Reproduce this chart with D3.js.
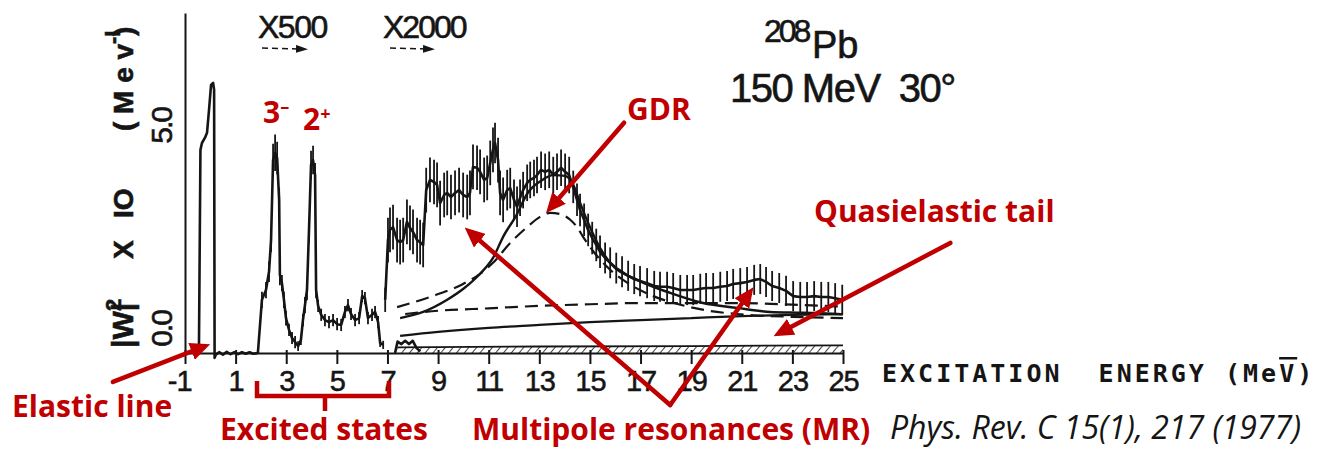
<!DOCTYPE html>
<html>
<head>
<meta charset="utf-8">
<script src="https://cdn.jsdelivr.net/npm/d3@7"></script>
<style>
body { margin: 0; background: #fff; }
svg { display: block; }
.note { fill: #c00000; font-family: 'Open Sans', sans-serif; font-weight: 700; font-size: 30px; }
.typed { fill: #151515; stroke: #151515; stroke-width: 0.6; font-family: 'Liberation Sans', sans-serif; }
.axis path, .axis line { stroke: #151515; stroke-width: 2; }
.axis text { fill: #151515; stroke: #151515; stroke-width: 0.5; font-family: 'Liberation Sans', sans-serif; font-size: 29px; letter-spacing: -1px; }
</style>
</head>
<body>
<script>
const width = 1328;
const height = 449;

// energies in MeV, values in |W|^2 x 10 (MeV)^-1 as plotted (x1 / x500 / x2000 pieces)
const xTicks = [-1, 1, 3, 5, 7, 9, 11, 13, 15, 17, 19, 21, 23, 25];
const xTickLabels = ['-1', '1', '3', '5', '7', '9', '11', '13', '15', '17', '19', '21', '23', '25'];
const yTicks = [0, 5];
const yTickLabels = ['0.0', '5.0'];

const elasticLine = [
  [-0.45, 0], [-0.39, 5.0], [-0.33, 5.17], [-0.21, 5.30], [-0.13, 5.42], [-0.05, 5.99],
  [0.03, 6.60], [0.11, 6.65], [0.15, 6.48], [0.17, -0.12], [0.22, -0.04], [0.35, 0.02],
  [0.5, -0.04], [0.65, 0.03], [0.8, -0.03], [0.95, 0.02], [1.1, -0.03], [1.25, 0.02],
  [1.4, -0.02], [1.55, 0.02], [1.7, -0.02], [1.88, 0]
];

// [E, value, error]
const excitedStates = [
  [1.88, 0, 0], [2.04, 1.31, 0.2], [2.20, 1.55, 0.2], [2.32, 2.0, 0.25], [2.40, 2.78, 0.3],
  [2.48, 4.75, 0.4], [2.56, 4.93, 0.45], [2.64, 4.80, 0.4], [2.72, 3.77, 0.3], [2.75, 1.92, 0.25],
  [2.83, 1.72, 0.2], [2.91, 1.31, 0.2], [2.99, 0.86, 0.18], [3.11, 0.57, 0.15], [3.23, 0.37, 0.15],
  [3.35, 0.27, 0.15], [3.47, 0.17, 0.12], [3.58, 0.32, 0.12], [3.66, 0.81, 0.15], [3.74, 1.18, 0.2],
  [3.82, 1.55, 0.25], [3.90, 3.03, 0.3], [3.98, 4.63, 0.35], [4.06, 4.75, 0.35], [4.14, 4.38, 0.3],
  [4.18, 1.55, 0.2], [4.26, 1.16, 0.15], [4.38, 0.94, 0.15], [4.53, 0.81, 0.15], [4.69, 0.76, 0.15],
  [4.85, 0.81, 0.15], [5.01, 0.71, 0.15], [5.17, 0.69, 0.15], [5.32, 1.01, 0.15], [5.44, 1.18, 0.15],
  [5.56, 0.96, 0.15], [5.72, 0.81, 0.15], [5.88, 0.86, 0.15], [6.00, 1.40, 0.15], [6.11, 1.35, 0.15],
  [6.23, 0.86, 0.15], [6.39, 0.94, 0.15], [6.51, 1.01, 0.15], [6.63, 0.76, 0.15], [6.71, 0.25, 0.1],
  [6.83, 0.20, 0.1]
];

const continuum = [
  [6.91, 1.31, 0.3], [7.02, 2.78, 0.55], [7.10, 3.03, 0.55], [7.22, 3.10, 0.55], [7.38, 2.78, 0.55],
  [7.50, 2.73, 0.55], [7.62, 2.78, 0.55], [7.77, 3.23, 0.55], [7.89, 3.08, 0.55], [8.01, 2.98, 0.55],
  [8.17, 2.78, 0.55], [8.29, 2.73, 0.55], [8.41, 2.66, 0.55], [8.53, 4.01, 0.55], [8.68, 4.26, 0.55],
  [8.84, 4.21, 0.55], [8.96, 4.14, 0.55], [9.08, 3.69, 0.55], [9.24, 3.89, 0.55], [9.36, 3.94, 0.55],
  [9.51, 3.84, 0.55], [9.67, 3.94, 0.55], [9.83, 4.01, 0.55], [9.99, 3.89, 0.55], [10.15, 3.84, 0.55],
  [10.26, 3.94, 0.55], [10.38, 4.58, 0.55], [10.54, 4.56, 0.55], [10.66, 4.46, 0.55], [10.82, 4.26, 0.55],
  [10.94, 4.31, 0.55], [11.06, 4.68, 0.55], [11.17, 5.0, 0.55], [11.25, 5.17, 0.5], [11.37, 4.75, 0.55],
  [11.45, 3.94, 0.55], [11.57, 3.77, 0.55], [11.73, 4.01, 0.5], [11.85, 4.06, 0.5], [12.00, 3.77, 0.5],
  [12.12, 3.60, 0.5], [12.24, 3.82, 0.45], [12.36, 4.01, 0.45], [12.52, 4.19, 0.45], [12.64, 4.26, 0.45],
  [12.79, 4.31, 0.45], [12.91, 4.38, 0.45], [13.07, 4.51, 0.45], [13.23, 4.46, 0.45], [13.39, 4.51, 0.45],
  [13.55, 4.38, 0.45], [13.70, 4.46, 0.45], [13.86, 4.56, 0.45], [14.02, 4.46, 0.45], [14.18, 4.38, 0.45],
  [14.34, 4.09, 0.4], [14.49, 3.77, 0.4], [14.61, 3.52, 0.4], [14.77, 3.28, 0.4], [14.93, 3.03, 0.4],
  [15.09, 2.83, 0.4], [15.25, 2.66, 0.4], [15.40, 2.49, 0.4], [15.60, 2.34, 0.38], [15.80, 2.22, 0.38],
  [16.04, 2.09, 0.38], [16.27, 2.0, 0.38], [16.51, 1.90, 0.37], [16.75, 1.82, 0.37], [16.98, 1.77, 0.37],
  [17.26, 1.72, 0.37], [17.54, 1.65, 0.37], [17.77, 1.63, 0.37], [18.05, 1.63, 0.37], [18.29, 1.60, 0.37],
  [18.57, 1.55, 0.37], [18.84, 1.55, 0.37], [19.08, 1.55, 0.37], [19.36, 1.58, 0.37], [19.59, 1.60, 0.37],
  [19.87, 1.60, 0.37], [20.15, 1.63, 0.37], [20.42, 1.65, 0.37], [20.66, 1.70, 0.37], [20.94, 1.72, 0.37],
  [21.21, 1.75, 0.37], [21.49, 1.80, 0.37], [21.73, 1.82, 0.37], [21.96, 1.75, 0.37], [22.20, 1.65, 0.37],
  [22.48, 1.60, 0.37], [22.75, 1.53, 0.37], [23.03, 1.40, 0.37], [23.31, 1.38, 0.37], [23.58, 1.38, 0.37],
  [23.86, 1.40, 0.37], [24.14, 1.38, 0.37], [24.42, 1.38, 0.37], [24.69, 1.35, 0.37], [24.97, 1.31, 0.37]
];

const lowBump = [
  [7.3, 0], [7.4, 0.28], [7.55, 0.22], [7.7, 0.30], [7.85, 0.22], [8.0, 0.30], [8.15, 0.12], [8.3, 0.04]
];

const totalFit = [
  [7.50, 0.86], [8.41, 1.01], [9.36, 1.31], [10.0, 1.58], [10.66, 1.95], [11.17, 2.34], [11.57, 2.86],
  [12.12, 3.42], [12.52, 3.92], [13.07, 4.24], [13.55, 4.38], [14.02, 4.36], [14.34, 4.14], [14.61, 3.70],
  [14.93, 3.20], [15.40, 2.59], [15.80, 2.22], [16.87, 1.80], [18.17, 1.48], [19.47, 1.23], [20.82, 1.11],
  [22.12, 1.01], [23.43, 0.99], [24.77, 0.96], [25.0, 0.95]
];

const gdrFit = [
  [7.38, 1.13], [8.68, 1.38], [9.99, 1.70], [10.66, 1.95], [11.17, 2.22], [11.85, 2.71], [12.52, 3.10],
  [13.03, 3.35], [13.43, 3.45], [13.82, 3.42], [14.22, 3.28], [14.49, 3.10], [14.73, 2.86], [15.2, 2.45],
  [15.8, 2.05], [16.5, 1.72], [17.5, 1.40], [18.5, 1.20], [19.5, 1.06], [21.0, 0.95], [23.0, 0.89], [25.0, 0.86]
];

const mrBackground = [
  [7.7, 0.96], [9.0, 1.04], [11.0, 1.10], [13.0, 1.16], [15.0, 1.20], [17.0, 1.23], [19.0, 1.23],
  [21.0, 1.23], [23.0, 1.19], [25.0, 1.14]
];

const quasiTail = [
  [7.5, 0.42], [9.0, 0.52], [11.0, 0.62], [13.0, 0.69], [15.0, 0.76], [17.0, 0.81], [19.0, 0.86],
  [21.0, 0.91], [23.0, 0.94], [25.0, 0.96]
];

const hatchTop = [[7.4, 0.14], [13.0, 0.16], [19.0, 0.17], [25.0, 0.19]];

// annotation arrows, ends in data units
const arrows = [
  {from: [-3.85, -0.71], to: [-0.41, 0.12]},
  {from: [16.35, 5.67], to: [13.55, 3.65]},
  {from: [18.17, -1.28], to: [10.38, 2.91]},
  {from: [18.17, -1.28], to: [21.21, 1.40]},
  {from: [29.24, 2.71], to: [22.64, 0.54]}
];

const svg = d3.select('body')
    .append('svg')
    .attr('width', width)
    .attr('height', height);

const x = d3.scaleLinear().domain([-1, 25]).range([185, 843]);
const y = d3.scaleLinear().domain([0, 8.37]).range([353, 13]);

const line = d3.line().x(d => x(d[0])).y(d => y(d[1]));
const smooth = d3.line().x(d => x(d[0])).y(d => y(d[1])).curve(d3.curveMonotoneX);

const defs = svg.append('defs');
defs.append('pattern')
    .attr('id', 'hatch')
    .attr('patternUnits', 'userSpaceOnUse')
    .attr('width', 6).attr('height', 6)
    .attr('patternTransform', 'rotate(40)')
    .append('line')
    .attr('x1', 0).attr('y1', 0).attr('x2', 0).attr('y2', 6)
    .attr('stroke', '#151515').attr('stroke-width', 1.6);

defs.append('marker')
    .attr('id', 'head')
    .attr('markerUnits', 'userSpaceOnUse')
    .attr('viewBox', '0 0 20 18')
    .attr('markerWidth', 20).attr('markerHeight', 18)
    .attr('refX', 9).attr('refY', 9)
    .attr('orient', 'auto')
    .append('path')
    .attr('d', 'M0,0 L20,9 L0,18 Z')
    .attr('fill', '#c00000');

defs.append('marker')
    .attr('id', 'smallHead')
    .attr('markerUnits', 'userSpaceOnUse')
    .attr('viewBox', '0 0 12 8')
    .attr('markerWidth', 12).attr('markerHeight', 8)
    .attr('refX', 4).attr('refY', 4)
    .attr('orient', 'auto')
    .append('path')
    .attr('d', 'M0,0 L12,4 L0,8 Z')
    .attr('fill', '#151515');

// axes
const xAxis = d3.axisBottom(x)
    .tickValues(xTicks)
    .tickFormat((d, i) => xTickLabels[i])
    .tickSize(11)
    .tickSizeOuter(0)
    .tickPadding(6);

svg.append('g')
    .attr('class', 'axis')
    .attr('transform', 'translate(0,' + y(0) + ')')
    .call(xAxis)
    .call(g => g.selectAll('.tick line').attr('y1', -3))
    .call(g => g.selectAll('.tick text').attr('dx', d => d < 0 ? '-0.2em' : 0));

svg.append('g')
    .attr('class', 'axis')
    .attr('transform', 'translate(' + x(-1) + ',0)')
    .call(d3.axisLeft(y).tickValues([]).tickSizeOuter(0));

// y tick labels sit a bit above their value, like the original
svg.append('g').selectAll('text')
    .data(yTicks)
    .enter().append('text')
    .attr('class', 'typed')
    .attr('transform', d => 'translate(172,' + (y(d) - 24) + ') rotate(-90)')
    .attr('text-anchor', 'middle')
    .attr('font-size', 30)
    .attr('letter-spacing', -2)
    .text((d, i) => yTickLabels[i]);

// y axis title, rotated pieces
const yTitle = [
  {t: '|W|', at: 348, size: 30},
  {t: '2', at: 311, size: 22, lift: 12},
  {t: 'X', at: 259, size: 28},
  {t: 'IO', at: 218, size: 28},
  {t: '( M e v )', at: 131, size: 28},
  {t: '-I', at: 44, size: 22, lift: 13}
];
svg.append('g').selectAll('text')
    .data(yTitle)
    .enter().append('text')
    .attr('class', 'typed')
    .attr('transform', d => 'translate(' + (133 - (d.lift || 0)) + ',' + d.at + ') rotate(-90)')
    .attr('font-size', d => d.size)
    .attr('font-weight', 700)
    .text(d => d.t);

// hatched band above baseline
svg.append('path')
    .datum(hatchTop)
    .attr('d', d3.area().x(d => x(d[0])).y0(y(0)).y1(d => y(d[1])))
    .attr('fill', 'url(#hatch)');
svg.append('path')
    .datum(hatchTop)
    .attr('d', line)
    .attr('fill', 'none')
    .attr('stroke', '#151515')
    .attr('stroke-width', 1.8);

// fit curves
svg.append('path').datum(quasiTail).attr('d', smooth)
    .attr('fill', 'none').attr('stroke', '#151515').attr('stroke-width', 2.2);
svg.append('path').datum(mrBackground).attr('d', smooth)
    .attr('fill', 'none').attr('stroke', '#151515').attr('stroke-width', 2.2)
    .attr('stroke-dasharray', '13,7');
svg.append('path').datum(gdrFit).attr('d', smooth)
    .attr('fill', 'none').attr('stroke', '#151515').attr('stroke-width', 2.2)
    .attr('stroke-dasharray', '13,7');
svg.append('path').datum(totalFit).attr('d', smooth)
    .attr('fill', 'none').attr('stroke', '#151515').attr('stroke-width', 2.4);

// spectrum
const spectrum = [elasticLine, excitedStates, continuum, lowBump];
svg.append('g').selectAll('path')
    .data(spectrum)
    .enter().append('path')
    .attr('d', line)
    .attr('fill', 'none')
    .attr('stroke', '#151515')
    .attr('stroke-width', 2.6)
    .attr('stroke-linejoin', 'round');

const withErr = excitedStates.concat(continuum).filter(d => d[2] > 0);
svg.append('g').selectAll('line')
    .data(withErr)
    .enter().append('line')
    .attr('x1', d => x(d[0])).attr('x2', d => x(d[0]))
    .attr('y1', d => y(d[1] - d[2])).attr('y2', d => y(d[1] + d[2]))
    .attr('stroke', '#151515')
    .attr('stroke-width', 1.8);

// scale factor marks at the top
const scaleMarks = [
  {t: 'X500', x: 258, ls: -1.5, a: 262, b: 300},
  {t: 'X2000', x: 383, ls: -2, a: 390, b: 427}
];
scaleMarks.forEach(s => {
    svg.append('text').attr('class', 'typed')
        .attr('x', s.x).attr('y', 38)
        .attr('font-size', 32).attr('letter-spacing', s.ls)
        .text(s.t);
    svg.append('line')
        .attr('x1', s.a).attr('x2', s.b).attr('y1', 48).attr('y2', 49)
        .attr('stroke', '#151515').attr('stroke-width', 1.5)
        .attr('stroke-dasharray', '6,4')
        .attr('marker-end', 'url(#smallHead)');
});

// target / conditions
svg.append('text').attr('class', 'typed')
    .attr('x', 764).attr('y', 42).attr('font-size', 32).attr('letter-spacing', -3)
    .text('208');
svg.append('text').attr('class', 'typed')
    .attr('x', 812).attr('y', 58).attr('font-size', 38)
    .text('Pb');
svg.append('text').attr('class', 'typed')
    .attr('x', 730).attr('y', 102).attr('font-size', 40).attr('letter-spacing', -1.5)
    .attr('xml:space', 'preserve')
    .text('150 MeV  30\u00b0');

const xTitle = svg.append('text')
    .attr('x', 882).attr('y', 382)
    .attr('fill', '#151515')
    .attr('font-family', "'DejaVu Sans Mono', monospace")
    .attr('font-weight', 700)
    .attr('font-size', 25)
    .attr('letter-spacing', 3)
    .attr('xml:space', 'preserve')
    .text('EXCITATION  ENERGY (Me');
xTitle.append('tspan').attr('text-decoration', 'overline').text('V');
xTitle.append('tspan').text(')');

// red annotations
const notes = svg.append('g');
arrows.forEach(a => {
    notes.append('line')
        .attr('x1', x(a.from[0])).attr('y1', y(a.from[1]))
        .attr('x2', x(a.to[0])).attr('y2', y(a.to[1]))
        .attr('stroke', '#c00000')
        .attr('stroke-width', 4.5)
        .attr('stroke-linecap', 'round')
        .attr('marker-end', 'url(#head)');
});

const bracket = d3.path();
bracket.moveTo(257, 381); bracket.lineTo(257, 396); bracket.lineTo(389, 396); bracket.lineTo(389, 381);
bracket.moveTo(325, 396); bracket.lineTo(325, 411);
notes.append('path')
    .attr('d', bracket.toString())
    .attr('fill', 'none')
    .attr('stroke', '#c00000')
    .attr('stroke-width', 4.5);

const labels = [
  {t: 'Elastic line', x: 12, y: 417},
  {t: 'Excited states', x: 220, y: 440},
  {t: 'Multipole resonances (MR)', x: 472, y: 440},
  {t: 'GDR', x: 627, y: 120},
  {t: 'Quasielastic tail', x: 814, y: 222}
];
notes.selectAll('text.lab')
    .data(labels)
    .enter().append('text')
    .attr('class', 'note lab')
    .attr('x', d => d.x).attr('y', d => d.y)
    .text(d => d.t);

const states = [
  {t: '3', s: '\u2013', x: 263, y: 123},
  {t: '2', s: '+', x: 303, y: 130}
];
states.forEach(s => {
    const t = notes.append('text').attr('class', 'note').attr('x', s.x).attr('y', s.y).text(s.t);
    t.append('tspan').attr('dy', -10).attr('font-size', 18).text(s.s);
});

svg.append('text')
    .attr('x', 890).attr('y', 439)
    .attr('fill', '#151515')
    .attr('font-family', "'Open Sans', sans-serif")
    .attr('font-style', 'italic')
    .attr('font-size', 32)
    .text('Phys. Rev. C 15(1), 217 (1977)');
</script>
</body>
</html>
